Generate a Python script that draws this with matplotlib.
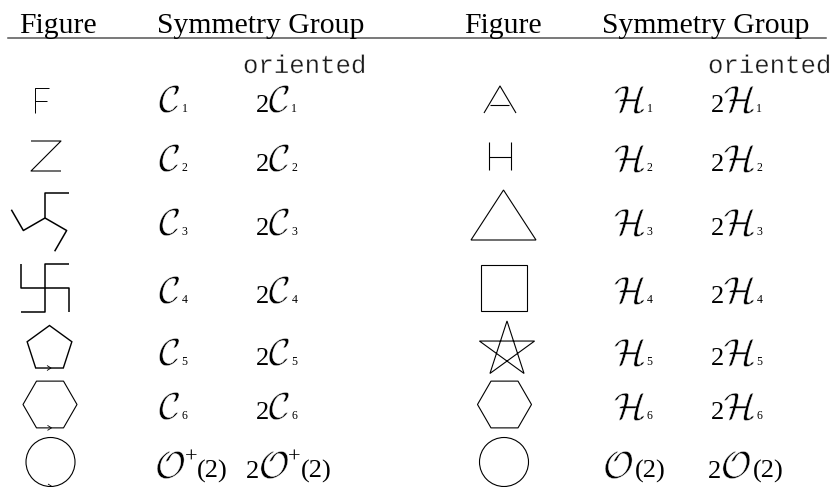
import numpy as np
import matplotlib
matplotlib.use('Agg')
import matplotlib.pyplot as plt
import matplotlib.patheffects as pe
from matplotlib.patches import Circle, Polygon

# table content
header_cols = ['Figure', 'Symmetry Group']
oriented_label = 'oriented'
left_shapes = ['F', 'Z', 'hook3', 'hook4', 'pent', 'hex', 'circle']
right_shapes = ['A', 'H', 'tri', 'square', 'star', 'hex', 'circle']
# group symbol = letter, subscript (or superscript), trailing argument
left_letter = ['C', 'C', 'C', 'C', 'C', 'C', 'O']
left_sub = ['1', '2', '3', '4', '5', '6', '']
left_sup = ['', '', '', '', '', '', '+']
left_arg = ['', '', '', '', '', '', '(2)']
right_letter = ['H', 'H', 'H', 'H', 'H', 'H', 'O']
right_sub = ['1', '2', '3', '4', '5', '6', '']
right_sup = ['', '', '', '', '', '', '']
right_arg = ['', '', '', '', '', '', '(2)']
oriented_prefix = '2'
arrow_shapes = ['pent', 'hex', 'circle']  # oriented ones on the left get a chevron

# layout (pixels, y down)
row_center = [101, 156, 218, 288, 349, 404.5, 462]
row_base = [112, 171, 235, 303, 365, 419, 478]
LC = 'black'
LW = 0.8
SERIF = 'Liberation Serif'
LETTER_FS = 27
DIGIT_FS = 19
SUB_FS = 8.5
thin = [pe.Stroke(linewidth=0.35, foreground='white')]

plt.rcParams['mathtext.fontset'] = 'cm'

fig = plt.figure(figsize=(8.33, 4.87), dpi=100)
ax = fig.add_axes([0, 0, 1, 1])
ax.set_xlim(0, 833)
ax.set_ylim(487, 0)
ax.axis('off')
renderer = fig.canvas.get_renderer()


def right_edge(t):
    bb = t.get_window_extent(renderer)
    return ax.transData.inverted().transform((bb.x1, bb.y0))[0]


def line(pts, lw=LW):
    pts = np.array(pts)
    ax.plot(pts[:, 0], pts[:, 1], color=LC, lw=lw, solid_capstyle='butt')


def reg_poly(cx, cy, r, n, start):
    ang = np.deg2rad(start + 360.0 / n * np.arange(n))
    return np.c_[cx + r * np.cos(ang), cy - r * np.sin(ang)]


def hooked(cx, cy, n, arm, hook, start=90):
    for k in range(n):
        a = np.deg2rad(start + 360.0 / n * k)
        d = np.array([np.cos(a), -np.sin(a)])
        h = np.array([np.sin(a), np.cos(a)])  # turn clockwise on screen
        p1 = np.array([cx, cy]) + arm * d
        line([[cx, cy], p1, p1 + hook * h], lw=1.1)


def chevron(x, y):
    line([[x - 2.5, y - 2.5], [x + 1.5, y], [x - 2.5, y + 2.5]], lw=0.6)


def draw_shape(kind, cx, cy, arrow=False):
    if kind == 'F':
        line([[cx + 7, cy - 13], [cx - 7, cy - 13], [cx - 7, cy + 12]], lw=0.7)
        line([[cx - 7, cy], [cx + 5, cy]], lw=0.7)
    elif kind == 'Z':
        line([[cx - 15, cy - 15], [cx + 15, cy - 15], [cx - 15, cy + 15], [cx + 15, cy + 15]])
    elif kind == 'hook3':
        hooked(cx, cy, 3, 25, 24)
    elif kind == 'hook4':
        hooked(cx, cy, 4, 24, 24)
    elif kind == 'pent':
        ax.add_patch(Polygon(reg_poly(cx, cy, 23.5, 5, 90), closed=True, fill=False, ec=LC, lw=1.0))
        if arrow:
            chevron(cx, cy + 23.5 * np.cos(np.deg2rad(36)))
    elif kind == 'hex':
        ax.add_patch(Polygon(reg_poly(cx, cy, 27, 6, 0), closed=True, fill=False, ec=LC, lw=LW))
        if arrow:
            chevron(cx, cy + 27 * np.sqrt(3) / 2)
    elif kind == 'circle':
        ax.add_patch(Circle((cx, cy), 24.5, fill=False, ec=LC, lw=LW))
        if arrow:
            chevron(cx, cy + 24.5)
    elif kind == 'A':
        line([[cx - 16, cy + 13], [cx, cy - 14], [cx + 16, cy + 13]])
        line([[cx - 9.5, cy + 5], [cx + 9.5, cy + 5]])
    elif kind == 'H':
        line([[cx - 11, cy - 14], [cx - 11, cy + 14]])
        line([[cx + 11, cy - 14], [cx + 11, cy + 14]])
        line([[cx - 11, cy + 1], [cx + 11, cy + 1]])
    elif kind == 'tri':
        ax.add_patch(Polygon([[cx, cy - 31], [cx - 32.5, cy + 19], [cx + 32.5, cy + 19]],
                             closed=True, fill=False, ec=LC, lw=LW))
    elif kind == 'square':
        ax.add_patch(Polygon(reg_poly(cx, cy, 23 * np.sqrt(2), 4, 45), closed=True,
                             fill=False, ec=LC, lw=LW))
    elif kind == 'star':
        pts = reg_poly(cx, cy + 1, 29, 5, 90)
        ax.add_patch(Polygon(pts[[0, 2, 4, 1, 3]], closed=True, fill=False, ec=LC, lw=LW))


def group_label(x, y, letter, sub, sup, arg, prefix=''):
    if prefix:
        t = ax.text(x, y, prefix, family=SERIF, fontsize=DIGIT_FS, va='baseline')
        x = right_edge(t) - 0.5
    t = ax.text(x, y, r'$\mathcal{%s}$' % letter, fontsize=LETTER_FS, va='baseline',
                path_effects=thin)
    x = right_edge(t)
    if sub:
        ax.text(x + 0.5, y, sub, family=SERIF, fontsize=SUB_FS, va='baseline')
    if sup:
        t = ax.text(x - 1.5, y - 15, sup, family=SERIF, fontsize=16, va='baseline')
        x = right_edge(t) - 1.5
    if arg:
        ax.text(x + 1, y, arg, family=SERIF, fontsize=DIGIT_FS, va='baseline')


# header
for x0 in (0, 445):
    ax.text(x0 + 19, 33, header_cols[0], family=SERIF, fontsize=21.3, va='baseline')
    ax.text(x0 + 157, 33, header_cols[1], family=SERIF, fontsize=21.3, va='baseline')
ax.plot([8, 826], [37.5, 37.5], color='#555555', lw=1.1)
for x0 in (243, 708):
    ax.text(x0, 73, oriented_label, family='Liberation Mono', fontsize=18.5, va='baseline',
            color='#1a1a1a', path_effects=[pe.Stroke(linewidth=0.25, foreground='white')])

left_cx = [42, 46, 45, 45, 49.5, 50, 50.5]
right_cx = [500, 500, 503.5, 504.5, 507, 504.5, 504]
right_cy_shift = [-1, 0, 3, 0, 0, 0, 0]
col_x = [[159, 256], [614, 711]]
last_col_x = [[155, 246], [603, 708]]

for i in range(len(left_shapes)):
    draw_shape(left_shapes[i], left_cx[i], row_center[i], left_shapes[i] in arrow_shapes)
    draw_shape(right_shapes[i], right_cx[i], row_center[i] + right_cy_shift[i])
    xs = last_col_x if i == len(left_shapes) - 1 else col_x
    y = row_base[i]
    group_label(xs[0][0], y, left_letter[i], left_sub[i], left_sup[i], left_arg[i])
    group_label(xs[0][1], y, left_letter[i], left_sub[i], left_sup[i], left_arg[i], oriented_prefix)
    group_label(xs[1][0], y, right_letter[i], right_sub[i], right_sup[i], right_arg[i])
    group_label(xs[1][1], y, right_letter[i], right_sub[i], right_sup[i], right_arg[i], oriented_prefix)

fig.savefig('out.png', dpi=100)
